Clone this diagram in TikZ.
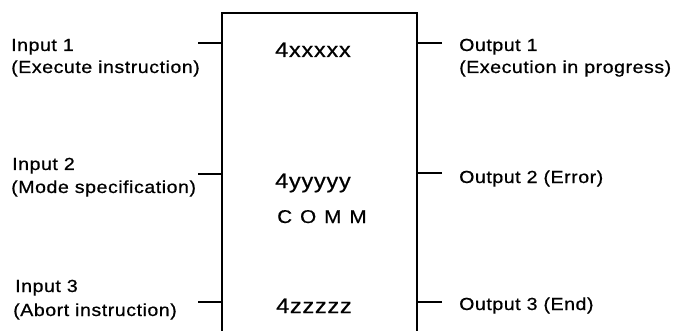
\documentclass[tikz,border=0pt]{standalone}
\usepackage{fontspec}
\setmainfont{Liberation Sans}
\newfontfamily\lblfont[FakeStretch=1.12,LetterSpace=3,FakeBold=0.7]{Liberation Sans}
\newfontfamily\regfont[FakeStretch=1.12,LetterSpace=3.5,FakeBold=0.7]{Liberation Sans}
\newfontfamily\commfont[FakeStretch=1.12,LetterSpace=43,FakeBold=0.6]{Liberation Sans}
\begin{document}
\begin{tikzpicture}[x=1pt,y=-1pt,
  lbl/.style={anchor=base west,inner sep=0pt,font=\lblfont\fontsize{17.5}{20}\selectfont},
  reg/.style={anchor=base west,inner sep=0pt,font=\regfont\fontsize{21}{24}\selectfont},
  comm/.style={anchor=base west,inner sep=0pt,font=\commfont\fontsize{18.5}{22}\selectfont},
  boxline/.style={line width=2.7pt},
  wire/.style={line width=2.3pt}]
\useasboundingbox (0,0) rectangle (679,331);
% box outline (open at the bottom)
\coordinate (bl) at (222,331);
\coordinate (tl) at (222,13);
\coordinate (tr) at (417,13);
\coordinate (br) at (417,331);
\draw[boxline] (bl) -- (tl) -- (tr) -- (br);
% free ends of connectors
\coordinate (i1) at (198,43);
\coordinate (i2) at (198,174);
\coordinate (i3) at (198,302);
\coordinate (o1) at (442,43);
\coordinate (o2) at (442,173);
\coordinate (o3) at (442,302);
\draw[wire] (i1) -- (i1 -| tl);
\draw[wire] (i2) -- (i2 -| tl);
\draw[wire] (i3) -- (i3 -| tl);
\draw[wire] (o1) -- (o1 -| tr);
\draw[wire] (o2) -- (o2 -| tr);
\draw[wire] (o3) -- (o3 -| tr);
% register labels
\node[reg] (rx) at (275,57) {4xxxxx};
\node[reg] (ry) at (275,188) {4yyyyy};
\node[comm] (cm) at (277,223) {COMM};
\node[reg] (rz) at (276,313) {4zzzzz};
% input labels
\node[lbl] (in1a) at (11,51) {Input 1};
\node[lbl] (in1b) at (11,73) {(Execute instruction)};
\node[lbl] (in2a) at (12,170) {Input 2};
\node[lbl] (in2b) at (11,193) {(Mode specification)};
\node[lbl] (in3a) at (15,292) {Input 3};
\node[lbl] (in3b) at (13,316) {(Abort instruction)};
% output labels
\node[lbl] (out1a) at (459,51) {Output 1};
\node[lbl] (out1b) at (459,73) {(Execution in progress)};
\node[lbl] (out2) at (459,183) {Output 2 (Error)};
\node[lbl] (out3) at (459,310) {Output 3 (End)};
\end{tikzpicture}
\end{document}
